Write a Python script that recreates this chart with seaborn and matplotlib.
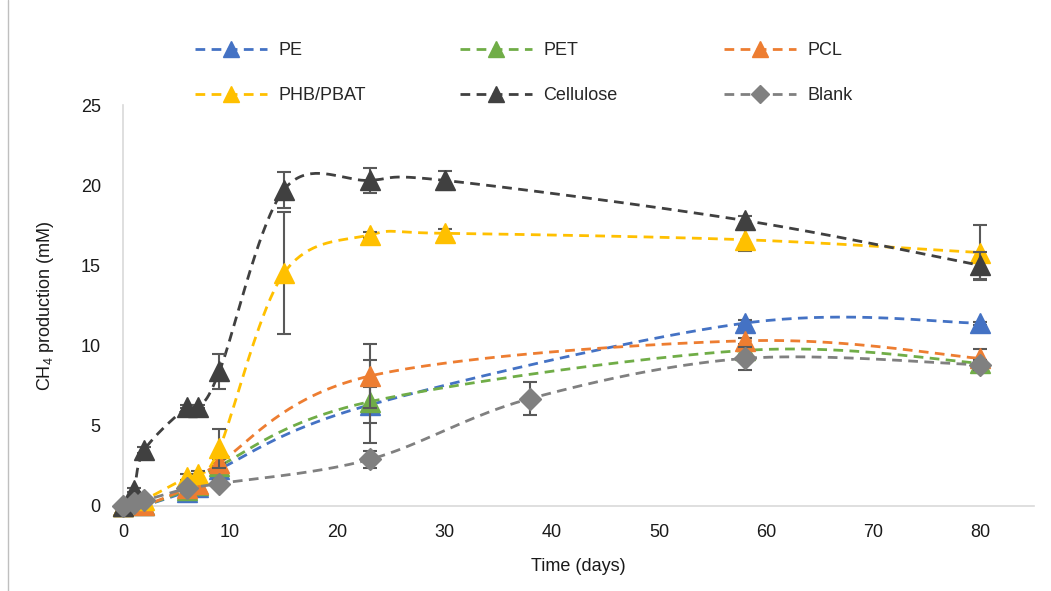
import numpy as np
import pandas as pd
import matplotlib
matplotlib.use("Agg")
import matplotlib.pyplot as plt
import seaborn as sns
from matplotlib.lines import Line2D

# ---------------- data ----------------
pe_t = [0, 2, 6, 7, 9, 23, 58, 80]
pe_v = [0, 0.05, 0.9, 1.2, 2.3, 6.3, 11.4, 11.4]
pe_e = [0.05, 0.1, 0.2, 0.2, 0.2, 1.1, 0.2, 0.1]

pet_t = [0, 2, 6, 7, 9, 23, 58, 80]
pet_v = [0, 0.05, 1.0, 1.3, 2.5, 6.5, 9.7, 8.9]
pet_e = [0.05, 0.1, 0.2, 0.2, 0.2, 2.6, 0.3, 0.2]

pcl_t = [0, 2, 6, 7, 9, 23, 58, 80]
pcl_v = [0, 0.05, 1.1, 1.4, 2.7, 8.1, 10.3, 9.2]
pcl_e = [0.05, 0.1, 0.2, 0.2, 0.2, 2.0, 0.2, 0.6]

phb_t = [0, 2, 6, 7, 9, 15, 23, 30, 58, 80]
phb_v = [0, 0.4, 1.8, 2.0, 3.6, 14.5, 16.9, 17.0, 16.6, 15.8]
phb_e = [0.05, 0.1, 0.2, 0.2, 1.2, 3.8, 0.2, 0.3, 0.7, 1.7]

cel_t = [0, 1, 2, 6, 7, 9, 15, 23, 30, 58, 80]
cel_v = [0, 1.0, 3.5, 6.2, 6.2, 8.4, 19.7, 20.3, 20.3, 17.8, 15.0]
cel_e = [0.05, 0.1, 0.2, 0.1, 0.1, 1.1, 1.1, 0.8, 0.6, 0.3, 0.85]

blk_t = [0, 1, 2, 6, 9, 23, 38, 58, 80]
blk_v = [0, 0.2, 0.35, 1.1, 1.4, 2.9, 6.7, 9.2, 8.8]
blk_e = [0.05, 0.05, 0.1, 0.2, 0.2, 0.5, 1.0, 0.7, 0.3]

names = ["PE", "PET", "PCL", "PHB/PBAT", "Cellulose", "Blank"]
colors = ["#4472C4", "#70AD47", "#ED7D31", "#FFC000", "#404040", "#808080"]
markers = ["^", "^", "^", "^", "^", "D"]
x_ticks = [0, 10, 20, 30, 40, 50, 60, 70, 80]
y_ticks = [0, 5, 10, 15, 20, 25]

series = [(pe_t, pe_v, pe_e), (pet_t, pet_v, pet_e), (pcl_t, pcl_v, pcl_e),
          (phb_t, phb_v, phb_e), (cel_t, cel_v, cel_e), (blk_t, blk_v, blk_e)]


def excel_smooth(x, y, n=40):
    P = np.column_stack([np.asarray(x, float), np.asarray(y, float)])
    out = [P[0]]
    for i in range(len(P) - 1):
        p0 = P[i - 1] if i > 0 else P[i]
        p1, p2 = P[i], P[i + 1]
        p3 = P[i + 2] if i + 2 < len(P) else P[i + 1]
        c1 = p1 + (p2 - p0) / 6.0
        c2 = p2 - (p3 - p1) / 6.0
        t = np.linspace(0, 1, n)[1:, None]
        B = (1 - t) ** 3 * p1 + 3 * (1 - t) ** 2 * t * c1 + 3 * (1 - t) * t ** 2 * c2 + t ** 3 * p2
        out.extend(B)
    out = np.array(out)
    return out[:, 0], out[:, 1]


sns.set_style("white")
plt.rcParams["font.family"] = ["Liberation Sans Narrow", "Liberation Sans", "DejaVu Sans"]
plt.rcParams["mathtext.default"] = "regular"

fig = plt.figure(figsize=(10.51, 5.91), dpi=100)
ax = fig.add_axes([123 / 1051, 1 - 506 / 591, (1034 - 123) / 1051, (506 - 105) / 591])

dash = (0, (3.5, 2.3))
handles = []
for k, ((t, v, e), name, c, m) in enumerate(zip(series, names, colors, markers)):
    sx, sy = excel_smooth(t, v)
    df = pd.DataFrame({"x": sx, "y": sy})
    sns.lineplot(data=df, x="x", y="y", sort=False, estimator=None, color=c,
                 lw=2, linestyle=dash, ax=ax, legend=False, zorder=2 + k)
    ms = 14 if m == "^" else 11
    ax.errorbar(t, v, yerr=e, fmt=m, ms=ms, color=c, mec=c, ecolor="#595959",
                elinewidth=1.5, capsize=5, capthick=1.5, zorder=2.5 + k, clip_on=False)
    handles.append(Line2D([], [], color=c, lw=2, linestyle=dash, marker=m,
                          ms=11 if m == "^" else 9, mec=c))

ax.set_xlim(0, 85)
ax.set_ylim(0, 25)
ax.set_xticks(x_ticks)
ax.set_yticks(y_ticks)
ax.tick_params(axis="both", length=0, labelsize=13, colors="#1a1a1a")
ax.tick_params(axis="x", pad=13)
ax.tick_params(axis="y", pad=16)
for s in ["top", "right"]:
    ax.spines[s].set_visible(False)
for s in ["left", "bottom"]:
    ax.spines[s].set_color("#D9D9D9")
    ax.spines[s].set_linewidth(1.2)
ax.set_xlabel("Time (days)", fontsize=13, color="#1a1a1a", labelpad=12)
ax.set_ylabel("CH$_4$ production (mM)", fontsize=13, color="#1a1a1a", labelpad=18)

# legend: three columns, two rows
col_x = [195 / 1051, 460 / 1051, 724 / 1051]
for j in range(3):
    hs = [handles[j], handles[j + 3]]
    ls = [names[j], names[j + 3]]
    fig.legend(hs, ls, loc="upper left", bbox_to_anchor=(col_x[j], 1 - 42 / 591),
               frameon=False, fontsize=13, handlelength=4.0, handletextpad=0.6,
               labelspacing=1.55, numpoints=1, borderaxespad=0, borderpad=0)

fig.add_artist(Line2D([8 / 1051, 8 / 1051], [0, 1], transform=fig.transFigure,
                      color="#BFBFBF", lw=1))

fig.savefig("out.png", dpi=100)
